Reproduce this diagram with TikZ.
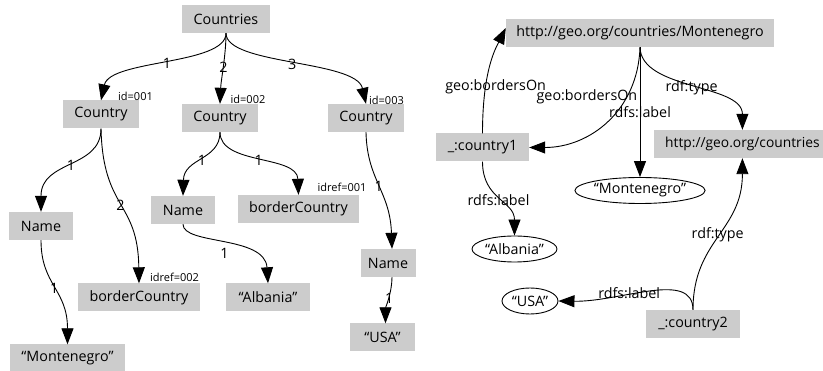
\documentclass[tikz,border=0pt]{standalone}
\usepackage{fontspec}
\setmainfont{Open Sans}
\usetikzlibrary{arrows.meta,shapes.geometric}
\definecolor{boxgray}{RGB}{204,204,204}
\begin{document}
\begin{tikzpicture}[x=1pt,y=-1pt,
  box/.style={fill=boxgray, inner sep=0pt, minimum height=28pt, font=\fontsize{14.3}{16}\selectfont},
  oval/.style={ellipse, draw, line width=0.9pt, inner sep=0pt, minimum height=26pt, font=\fontsize{14.3}{16}\selectfont},
  edge/.style={line width=0.9pt, -{Triangle[length=16pt,width=12pt]}},
  lbl/.style={font=\fontsize{14.3}{16}\selectfont, inner sep=0pt},
  small/.style={font=\fontsize{11}{13}\selectfont, inner sep=0pt}]
\useasboundingbox (0,0) rectangle (823,371);

% ---------- XML tree ----------
\node[box, minimum width=88pt]  (countries) at (226,19)    {Countries};
\node[box, minimum width=76pt]  (c1)  at (101,114.5) {Country};
\node[box, minimum width=76pt]  (c2)  at (220,118)   {Country};
\node[box, minimum width=76pt]  (c3)  at (366,118)   {Country};
\node[box, minimum width=64pt]  (n1)  at (41,226)    {Name};
\node[box, minimum width=64pt]  (n2)  at (183,210)   {Name};
\node[box, minimum width=55pt]  (n3)  at (388,263)   {Name};
\node[box, minimum width=121pt] (b2)  at (298.5,209) {borderCountry};
\node[box, minimum width=122pt] (b1)  at (139,297.5) {borderCountry};
\node[box, minimum width=84pt]  (alb) at (268,297.5) {“Albania”};
\node[box, minimum width=65pt]  (usa) at (382.5,337.5) {“USA”};
\node[box, minimum width=115pt] (mon) at (67.5,358.5) {“Montenegro”};

\node[small] (id1) at (135.5,96) {id=001};
\node[small] (id2) at (248,99)   {id=002};
\node[small] (id3) at (386.5,100) {id=003};
\node[small] (ref1) at (342,187) {idref=001};
\node[small] (ref2) at (174.5,277) {idref=002};

\draw[edge] (countries.south) .. controls +(0,32) and +(9,-41) .. (c1.north) node[lbl,pos=0.5] {1};
\draw[edge] (countries.south) .. controls +(0,22) and +(1,-24) .. (c2.north) node[lbl,pos=0.5] {2};
\draw[edge] (countries.south) .. controls +(0,32) and +(-10,-44) .. (c3.north) node[lbl,pos=0.5] {3};
\draw[edge] (c1.south) .. controls +(0,40) and +(0,-52) .. (n1.north) node[lbl,pos=0.5] {1};
\draw[edge] (c1.south) .. controls +(2,82) and +(-1,-83) .. (b1.north) node[lbl,pos=0.5] {2};
\draw[edge] (c2.south) .. controls +(0,28) and +(1,-38) .. (n2.north) node[lbl,pos=0.5] {1};
\draw[edge] (c2.south) .. controls +(0,33) and +(-1.5,-40) .. (b2.north) node[lbl,pos=0.5] {1};
\draw[edge] (c3.south) .. controls +(1,48) and +(-2,-58) .. ([xshift=4pt]n3.north) node[lbl,pos=0.5] {1};
\draw[edge] (n1.south) .. controls +(0,45) and +(0,-55) .. (mon.north) node[lbl,pos=0.5] {1};
\draw[edge] (n2.south) .. controls +(0,21) and +(-3,-48) .. (alb.north) node[lbl,pos=0.5,below=4pt] {1};
\draw[edge] ([xshift=4pt]n3.south) .. controls +(0,15) and +(0,-15) .. ([xshift=3pt]usa.north) node[lbl,pos=0.45] {1};

% ---------- RDF graph ----------
\node[box, minimum width=268pt] (uri) at (640,33) {http://geo.org/countries/Montenegro};
\node[box, minimum width=93pt]  (k1)  at (482.5,147.5) {\_:country1};
\node[box, minimum width=94pt]  (k2)  at (693,324) {\_:country2};
\node[box, anchor=west, inner xsep=11pt, font=\fontsize{13.8}{16}\selectfont] (geoc) at (654,144) {http://geo.org/countries};
\node[oval, minimum width=114pt] (montE) at (640,190.5) {“Montenegro”};
\node[oval, minimum width=85pt]  (albE)  at (514.5,249) {“Albania”};
\node[oval, minimum width=56pt]  (usaE)  at (530,301) {“USA”};

\draw[edge] (k1.north) .. controls +(0,-63) and +(-10,20) .. ([yshift=5pt]uri.west)
  node[lbl,pos=0.3,xshift=10pt] {geo:bordersOn};
\draw[edge] (k1.south) .. controls +(0,38) and +(0,-35) .. (albE.north)
  node[lbl,pos=0.5] {rdfs:label};
\draw[edge] (uri.south) .. controls +(-2,63) and +(61,0) .. (k1.east)
  node[lbl,pos=0.3,anchor=east,xshift=11pt] {geo:bordersOn};
\draw[edge] (uri.south) -- (montE.north) node[lbl,pos=0.5] {rdfs:label};
\draw[edge] (uri.south) .. controls +(1,43) and +(0,-46) .. (geoc.north)
  node[lbl,pos=0.5] {rdf:type};
\draw[edge] (k2.north) .. controls +(0,-70) and +(0,73) .. (geoc.south)
  node[lbl,pos=0.5] {rdf:type};
\draw[edge] (k2.north) .. controls +(0,-40) and +(62,1) .. (usaE.east)
  node[lbl,pos=0.62] {rdfs:label};
\end{tikzpicture}
\end{document}
